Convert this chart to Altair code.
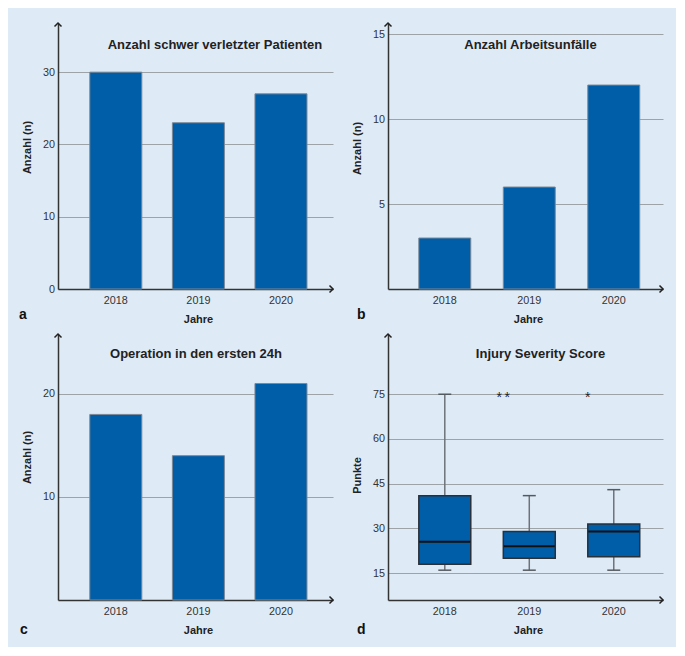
import altair as alt
import pandas as pd

# ---------------- data ----------------
years = ["2018", "2019", "2020"]
patients = [30, 23, 27]            # a) Anzahl schwer verletzter Patienten
work_accidents = [3, 6, 12]        # b) Anzahl Arbeitsunfälle
surgery_24h = [18, 14, 21]         # c) Operation in den ersten 24h
# d) Injury Severity Score (box plot summary)
iss_low = [16, 16, 16]
iss_q1 = [18, 20, 20.5]
iss_med = [25.5, 24, 29]
iss_q3 = [41, 29, 31.5]
iss_high = [75, 41, 43]
outlier_years = ["2019", "2019", "2020"]
outlier_values = [75, 75, 75]

BLUE = "#005DA8"
BG = "#DEEBF7"
DARK = "#222222"
FONT = "Liberation Sans"
W, H = 275, 266

one = pd.DataFrame({"k": [0]})


def xenc(left):
    if left:
        sc = alt.Scale(paddingInner=0.37, paddingOuter=0.35, align=0.55)
    else:
        sc = alt.Scale(paddingInner=0.385, paddingOuter=0.32, align=0.57)
    return alt.X("year:N", sort=years, scale=sc,
                 axis=alt.Axis(title="Jahre", labelAngle=0, ticks=False, grid=False,
                               labelPadding=14, labelBaseline="alphabetic",
                               titleX=140, titleY=33.5, titleBaseline="alphabetic"))


def yenc(field, domain, values, title, title_y):
    return alt.Y(field, type="quantitative",
                 scale=alt.Scale(domain=domain, nice=False, zero=False),
                 axis=alt.Axis(values=values, title=title, ticks=False, grid=True,
                               labelPadding=3.5, titleX=-26, titleY=title_y))


def decorations(title, tx, ty, letter, lx, ly):
    up = alt.Chart(one).mark_point(shape="M-1,1L0,0L1,1", size=49, filled=False,
                                   stroke=DARK, strokeWidth=1.5, opacity=1).encode(
        x=alt.value(0), y=alt.value(0))
    right = alt.Chart(one).mark_point(shape="M-1,-1L0,0L-1,1", size=49, filled=False,
                                      stroke=DARK, strokeWidth=1.5, opacity=1).encode(
        x=alt.value(W), y=alt.value(H))
    ttl = alt.Chart(one).mark_text(text=title, font=FONT, fontSize=13, fontWeight="bold",
                                   color=DARK, align="center", baseline="alphabetic").encode(
        x=alt.value(tx), y=alt.value(ty))
    let = alt.Chart(one).mark_text(text=letter, font=FONT, fontSize=14, fontWeight="bold",
                                   color="#111111", align="left", baseline="alphabetic").encode(
        x=alt.value(lx), y=alt.value(ly))
    return [up, right, ttl, let]


def bar_panel(vals, ymax, ticks, title, tx, ty, letter, lx, ly, yty, left):
    df = pd.DataFrame({"year": years, "value": vals})
    bars = alt.Chart(df).mark_bar(color=BLUE, stroke="#7d8996", strokeWidth=1).encode(
        x=xenc(left),
        y=yenc("value", [0, ymax], ticks, "Anzahl (n)", yty),
    )
    return alt.layer(bars, *decorations(title, tx, ty, letter, lx, ly)).properties(width=W, height=H)


pa = bar_panel(patients, 36.8, [0, 10, 20, 30], "Anzahl schwer verletzter Patienten",
               157, 26, "a", -39, 295.5, 124, True)
pb = bar_panel(work_accidents, 15.65, [5, 10, 15], "Anzahl Arbeitsunfälle",
               142.5, 26, "b", -31, 295.5, 125, False)
pc = bar_panel(surgery_24h, 25.8, [10, 20], "Operation in den ersten 24h",
               138, 24, "c", -38, 300, 123, True)

# ---- panel d: box plot ----
box_df = pd.DataFrame({"year": years, "lo": iss_low, "q1": iss_q1, "med": iss_med,
                       "q3": iss_q3, "hi": iss_high})
out_df = pd.DataFrame({"year": outlier_years, "value": outlier_values})
D_DOM = [6, 95.2]
D_TICKS = [15, 30, 45, 60, 75]
xd = xenc(False)


def yd(field):
    return yenc(field, D_DOM, D_TICKS, "Punkte", 141)


base_d = alt.Chart(box_df)
w_lo = base_d.mark_rule(color="#6e7378", strokeWidth=1.5).encode(x=xd, y=yd("lo"), y2="q1")
w_hi = base_d.mark_rule(color="#6e7378", strokeWidth=1.5).encode(x=xd, y=yd("q3"), y2="hi")
box = base_d.mark_bar(color=BLUE, stroke="#2a3038", strokeWidth=1.5).encode(x=xd, y=yd("q1"), y2="q3")
med = base_d.mark_tick(color="#111111", thickness=2, size=51, opacity=1).encode(x=xd, y=yd("med"))
cap_lo = base_d.mark_tick(color="#555a60", thickness=1.5, size=13, opacity=1).encode(x=xd, y=yd("lo"))
cap_hi = base_d.mark_tick(color="#555a60", thickness=1.5, size=13, opacity=1).encode(x=xd, y=yd("hi"))
stars = alt.Chart(out_df).transform_window(
    k="row_number()", groupby=["year"]
).transform_joinaggregate(
    n="count()", groupby=["year"]
).transform_calculate(
    off="(datum.k - (datum.n + 1) / 2) * 8"
).mark_text(text="*", font=FONT, fontSize=14, fill="#222222", baseline="alphabetic", dy=8).encode(
    x=xd, y=yd("value"), xOffset=alt.XOffset("off:Q", scale=None)
)

pd_ = alt.layer(w_lo, w_hi, box, med, cap_lo, cap_hi, stars,
                *decorations("Injury Severity Score", 152.5, 24, "d", -31, 300)).properties(width=W, height=H)

chart = alt.concat(pa, pb, pc, pd_, columns=2, spacing={"row": 45, "column": 55}, bounds="flush").properties(
    background=BG,
    padding={"left": 11, "top": 12, "right": 10, "bottom": 10},
).configure_view(stroke=None).configure_axis(
    labelFont=FONT, labelFontSize=10.8, labelColor="#333333",
    titleFont=FONT, titleFontSize=11, titleFontWeight="bold", titleColor=DARK,
    domainColor="#333333", domainWidth=1.5,
    gridColor="#9ea3a8", gridWidth=1,
)

chart.save("out.html", embed_options={"renderer": "svg", "actions": False})
